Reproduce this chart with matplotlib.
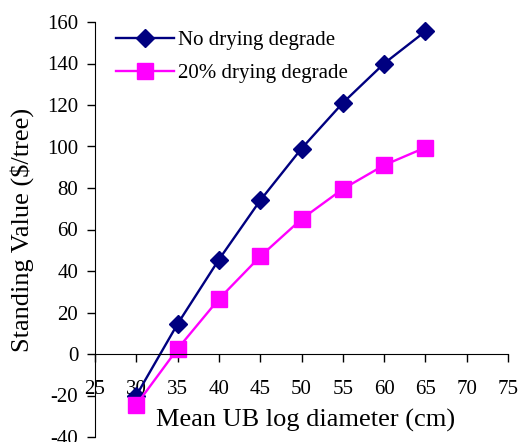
import matplotlib.pyplot as plt
import numpy as np

diameter = [30, 35, 40, 45, 50, 55, 60, 65]
no_degrade = [-20, 14.5, 45.5, 74, 99, 121, 140, 155.5]
degrade_20 = [-24.5, 2.5, 26.5, 47, 65, 79.5, 91, 99.5]

plt.rcParams['font.family'] = ['Liberation Serif', 'DejaVu Serif']
plt.rcParams['axes.unicode_minus'] = False

fig = plt.figure(figsize=(5.2, 4.42), dpi=100)
ax = fig.add_axes([95/520, 5/442, 413/520, 415/442])

ax.plot(diameter, no_degrade, color='#000080', lw=1.7, marker='D', ms=9,
        label='No drying degrade')
ax.plot(diameter, degrade_20, color='#FF00FF', lw=1.7, marker='s', ms=11,
        label='20% drying degrade')

ax.set_xlim(25, 75)
ax.set_ylim(-40, 160)
ax.set_xticks(np.arange(25, 76, 5))
ax.set_yticks(np.arange(-40, 161, 20))

ax.spines['top'].set_visible(False)
ax.spines['right'].set_visible(False)
ax.spines['bottom'].set_position(('data', 0))
ax.tick_params(axis='both', direction='out', length=6, width=1, labelsize=15)
ax.tick_params(axis='x', pad=13)
ax.tick_params(axis='y', pad=6)

ax.set_xlabel('Mean UB log diameter (cm)', fontsize=19)
ax.xaxis.set_label_coords(0.51, 0.04)
ax.xaxis.label.set_va('center')
ax.set_ylabel('Standing Value ($/tree)', fontsize=19)
ax.yaxis.set_label_coords(-0.176, 0.5)
ax.yaxis.label.set_va('center')

ax.legend(loc='upper left', bbox_to_anchor=(97/520, 1 - 12/442),
          bbox_transform=fig.transFigure, frameon=False, fontsize=15,
          handlelength=2.8, handletextpad=0.2, labelspacing=0.65)

fig.savefig('out.png', dpi=100)
